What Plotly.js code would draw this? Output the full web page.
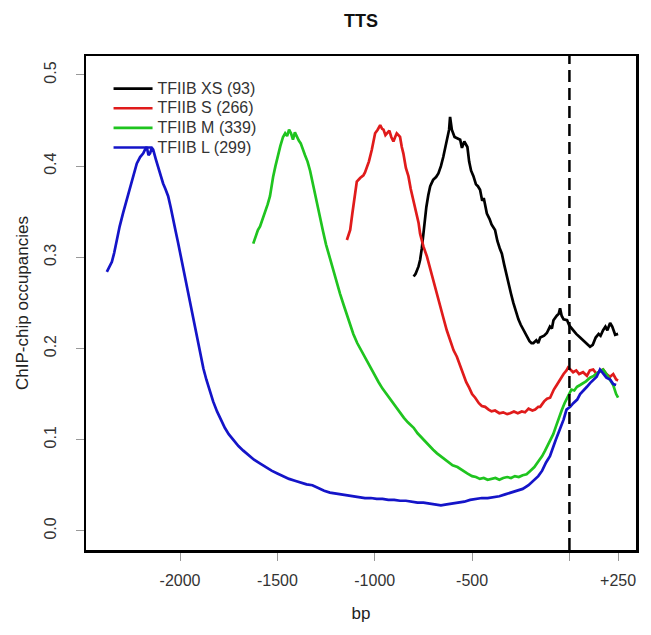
<!DOCTYPE html>
<html>
<head>
<meta charset="utf-8">
<script src="https://cdn.plot.ly/plotly-3.0.1.min.js"></script>
<style>html,body{margin:0;padding:0;background:#fff;}#chart{width:651px;height:635px;}</style>
</head>
<body>
<div id="chart"></div>
<script>
// ---- data (bp relative to TTS, ChIP-chip occupancy) ----
const seriesNames = ["TFIIB XS (93)", "TFIIB S (266)", "TFIIB M (339)", "TFIIB L (299)"];
const seriesColors = ["#000000", "#e01b1b", "#1fc41f", "#1414c8"];

const xsX = [-800,-790,-775,-767,-758,-749,-735,-725,-715,-700,-685,-673,-660,-648,-638,-628,-618,-613,-608,-604,-590,-575,-561,-552,-540,-524,-515,-505,-493,-480,-470,-459,-448,-440,-424,-410,-400,-382,-370,-358,-347,-335,-322,-310,-300,-288,-275,-262,-250,-236,-220,-205,-195,-185,-170,-160,-150,-130,-116,-100,-90,-82,-65,-55,-48,-40,-30,-12,0,19,35,55,70,85,106,120,135,150,160,173,185,195,209,220,235,250];
const xsY = [0.279,0.282,0.290,0.297,0.310,0.330,0.355,0.368,0.378,0.385,0.388,0.392,0.400,0.410,0.421,0.428,0.440,0.454,0.445,0.440,0.432,0.430,0.429,0.420,0.427,0.421,0.405,0.395,0.389,0.380,0.378,0.374,0.362,0.365,0.348,0.342,0.336,0.330,0.318,0.310,0.304,0.292,0.279,0.268,0.260,0.250,0.240,0.232,0.226,0.220,0.213,0.208,0.206,0.206,0.209,0.206,0.212,0.214,0.217,0.224,0.222,0.231,0.236,0.238,0.244,0.236,0.232,0.231,0.225,0.220,0.216,0.212,0.209,0.206,0.202,0.204,0.212,0.216,0.214,0.220,0.224,0.220,0.228,0.224,0.215,0.216];

const sX = [-1143,-1135,-1126,-1115,-1105,-1092,-1075,-1058,-1050,-1041,-1030,-1015,-1005,-998,-985,-972,-962,-955,-945,-938,-925,-915,-904,-895,-887,-878,-870,-861,-853,-840,-827,-815,-801,-790,-775,-767,-750,-732,-715,-698,-680,-664,-648,-630,-610,-595,-578,-560,-545,-530,-515,-500,-484,-465,-450,-433,-415,-400,-382,-360,-340,-320,-305,-285,-265,-245,-228,-210,-190,-176,-160,-150,-130,-115,-99,-80,-65,-48,-30,-15,-7,5,19,35,50,70,90,105,122,140,155,173,190,209,225,240,250];
const sY = [0.319,0.325,0.330,0.348,0.365,0.383,0.387,0.390,0.393,0.398,0.405,0.418,0.428,0.436,0.440,0.445,0.441,0.440,0.434,0.436,0.439,0.432,0.427,0.432,0.436,0.434,0.432,0.421,0.414,0.398,0.389,0.375,0.361,0.350,0.338,0.326,0.312,0.301,0.287,0.272,0.260,0.246,0.234,0.220,0.208,0.198,0.191,0.181,0.172,0.163,0.157,0.150,0.146,0.140,0.137,0.136,0.133,0.131,0.132,0.129,0.130,0.128,0.129,0.131,0.129,0.131,0.130,0.134,0.132,0.133,0.136,0.136,0.142,0.145,0.146,0.155,0.160,0.166,0.172,0.176,0.179,0.177,0.174,0.176,0.172,0.174,0.170,0.176,0.177,0.172,0.175,0.177,0.172,0.169,0.172,0.166,0.165];

const mX = [-1624,-1610,-1600,-1589,-1575,-1563,-1550,-1538,-1530,-1522,-1510,-1496,-1485,-1471,-1460,-1450,-1440,-1430,-1420,-1410,-1400,-1390,-1380,-1370,-1358,-1345,-1332,-1315,-1300,-1281,-1265,-1250,-1229,-1210,-1195,-1178,-1160,-1145,-1127,-1110,-1090,-1075,-1055,-1040,-1024,-1000,-980,-960,-940,-920,-896,-875,-850,-830,-800,-780,-750,-730,-700,-680,-650,-630,-600,-575,-550,-525,-500,-480,-460,-440,-420,-400,-380,-360,-340,-320,-300,-280,-260,-240,-220,-200,-180,-160,-140,-125,-110,-95,-83,-70,-55,-40,-25,-12,0,10,25,39,55,70,85,106,125,142,160,173,190,209,225,240,250];
const mY = [0.315,0.325,0.330,0.334,0.342,0.349,0.358,0.367,0.378,0.388,0.400,0.414,0.422,0.432,0.436,0.433,0.440,0.436,0.429,0.437,0.432,0.428,0.425,0.420,0.412,0.405,0.395,0.378,0.362,0.345,0.328,0.314,0.298,0.283,0.272,0.260,0.248,0.238,0.226,0.216,0.206,0.200,0.192,0.186,0.180,0.170,0.163,0.156,0.150,0.144,0.138,0.131,0.124,0.119,0.113,0.107,0.100,0.095,0.089,0.085,0.080,0.076,0.072,0.070,0.066,0.063,0.060,0.059,0.057,0.058,0.056,0.057,0.058,0.056,0.058,0.059,0.058,0.060,0.059,0.061,0.062,0.066,0.070,0.076,0.082,0.088,0.094,0.100,0.106,0.114,0.124,0.132,0.140,0.146,0.152,0.155,0.154,0.158,0.160,0.162,0.164,0.168,0.170,0.173,0.175,0.177,0.172,0.166,0.160,0.150,0.146];

const lX = [-2376,-2365,-2350,-2338,-2325,-2310,-2292,-2275,-2256,-2240,-2222,-2205,-2189,-2180,-2171,-2162,-2154,-2145,-2138,-2125,-2113,-2100,-2087,-2075,-2061,-2048,-2036,-2022,-2010,-1995,-1984,-1970,-1955,-1940,-1925,-1910,-1895,-1880,-1865,-1850,-1830,-1810,-1790,-1770,-1750,-1725,-1700,-1675,-1650,-1620,-1590,-1560,-1530,-1500,-1470,-1440,-1410,-1380,-1350,-1320,-1290,-1260,-1230,-1200,-1170,-1140,-1110,-1080,-1050,-1020,-990,-960,-930,-900,-870,-840,-810,-780,-750,-720,-690,-660,-630,-600,-570,-540,-510,-480,-450,-420,-390,-360,-330,-300,-270,-240,-210,-185,-160,-140,-120,-100,-85,-70,-48,-30,-15,4,20,40,55,75,90,106,125,140,157,173,190,209,225,240,250];
const lY = [0.284,0.288,0.295,0.305,0.319,0.334,0.349,0.362,0.378,0.390,0.403,0.410,0.414,0.418,0.421,0.412,0.414,0.420,0.418,0.408,0.399,0.390,0.381,0.375,0.367,0.355,0.341,0.328,0.316,0.300,0.286,0.270,0.254,0.238,0.222,0.206,0.192,0.178,0.166,0.155,0.142,0.131,0.121,0.113,0.106,0.099,0.093,0.088,0.083,0.078,0.074,0.070,0.066,0.063,0.060,0.057,0.055,0.053,0.051,0.050,0.047,0.044,0.042,0.041,0.040,0.039,0.038,0.037,0.036,0.036,0.035,0.035,0.034,0.034,0.033,0.033,0.032,0.031,0.031,0.030,0.029,0.028,0.029,0.030,0.031,0.032,0.034,0.035,0.036,0.036,0.037,0.038,0.040,0.042,0.044,0.046,0.050,0.055,0.060,0.066,0.075,0.082,0.090,0.100,0.112,0.122,0.133,0.136,0.140,0.144,0.150,0.154,0.158,0.162,0.166,0.169,0.177,0.173,0.168,0.166,0.161,0.160];

const xTickVals = [-2000, -1500, -1000, -500, 0, 250];
const xTickText = ["-2000", "-1500", "-1000", "-500", "", "+250"];
const yTickVals = [0, 0.1, 0.2, 0.3, 0.4, 0.5];
const yTickText = ["0.0", "0.1", "0.2", "0.3", "0.4", "0.5"];
const ttsPos = 0;

const xsData = [[xsX, xsY], [sX, sY], [mX, mY], [lX, lY]];
const FONT = "Liberation Sans, Arial, Helvetica, sans-serif";

const traces = xsData.map((d, i) => ({
  x: d[0], y: d[1], type: "scatter", mode: "lines",
  name: '<span style="font-size:16px">' + seriesNames[i] + '</span>',
  line: {color: seriesColors[i], width: 2.7},
  hoverinfo: "skip"
}));

const layout = {
  width: 651, height: 635,
  margin: {l: 86, r: 15, t: 56, b: 85},
  paper_bgcolor: "#ffffff", plot_bgcolor: "#ffffff",
  font: {family: FONT, color: "#333333", size: 15},
  title: {text: "<b>TTS</b>", font: {family: FONT, size: 18, color: "#111111"},
          x: 0.5545, xref: "container", xanchor: "center", y: 1 - 21/635, yref: "container", yanchor: "middle"},
  showlegend: true,
  legend: {x: 0.041, y: 0.964, xanchor: "left", yanchor: "top", bgcolor: "rgba(0,0,0,0)",
           borderwidth: 0, itemwidth: 39, tracegroupgap: 0,
           font: {family: FONT, size: 12.8, color: "#333333"}},
  xaxis: {
    range: [-2483, 342], showgrid: false, zeroline: false,
    showline: true, mirror: true, linecolor: "#000000", linewidth: 2.5,
    ticks: "outside", ticklen: 8, tickwidth: 1, tickcolor: "#999999",
    tickvals: xTickVals, ticktext: xTickText,
    tickfont: {family: FONT, size: 16, color: "#333333"},
    ticklabelstandoff: 6,
    title: {text: "bp", font: {family: FONT, size: 17, color: "#222222"}, standoff: 20}
  },
  yaxis: {
    range: [-0.021, 0.5208], showgrid: false, zeroline: false,
    showline: true, mirror: true, linecolor: "#000000", linewidth: 2.5,
    ticks: "outside", ticklen: 8, tickwidth: 1, tickcolor: "#999999",
    tickvals: yTickVals, ticktext: yTickText, tickangle: -90,
    tickfont: {family: FONT, size: 16, color: "#333333"},
    ticklabelstandoff: 13,
    title: {text: "ChIP-chip occupancies", font: {family: FONT, size: 17, color: "#222222"}, standoff: 9}
  },
  shapes: [{
    type: "line", xref: "x", yref: "paper", x0: ttsPos, x1: ttsPos, y0: 0, y1: 1,
    line: {color: "#000000", width: 2.5, dash: "12px,6px"}
  }]
};

Plotly.newPlot("chart", traces, layout, {displayModeBar: false, staticPlot: true});
</script>
</body>
</html>
